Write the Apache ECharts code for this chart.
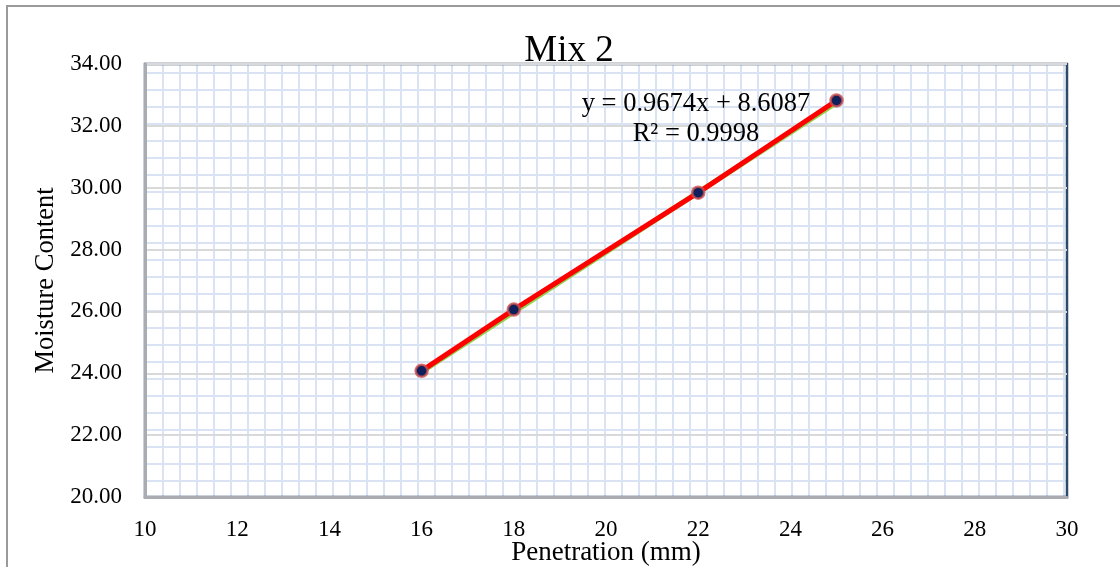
<!DOCTYPE html>
<html><head><meta charset="utf-8">
<script src="https://cdn.jsdelivr.net/npm/echarts@6/dist/echarts.min.js"></script>
<style>html,body{margin:0;padding:0;background:#fff}#c{width:1120px;height:567px}</style>
</head><body><div id="c"></div>
<script>
// ---- data ----
const penetration = [16, 18, 22, 25];
const moisture = [24.08, 26.06, 29.84, 32.82];
const trendSlope = 0.9674;
const trendIntercept = 8.6087;
const rSquared = 0.9998;
const chartTitle = 'Mix 2';
const xTitle = 'Penetration (mm)';
const yTitle = 'Moisture Content';

// ---- styling helpers ----
const FONT = '"Liberation Serif", "Times New Roman", serif';
const pc = document.createElement('canvas');
pc.width = 17; pc.height = 17;
const g = pc.getContext('2d');
g.fillStyle = '#ffffff'; g.fillRect(0, 0, 17, 17);
g.fillStyle = '#dae3f3';
g.fillRect(9, 0, 2, 17);
g.fillRect(0, 4, 17, 2);

const points = penetration.map((x, i) => [x, moisture[i]]);
const xMinData = Math.min(...penetration), xMaxData = Math.max(...penetration);
const trend = [xMinData, xMaxData].map(x => [x, trendSlope * x + trendIntercept]);

const chart = echarts.init(document.getElementById('c'), null, {renderer: 'canvas'});
chart.setOption({
  animation: false,
  backgroundColor: '#ffffff',
  grid: {
    left: 145, right: 53, top: 64, bottom: 70, show: true,
    outerBoundsMode: 'none', containLabel: false,
    backgroundColor: {image: pc, repeat: 'repeat'},
    borderColor: '#2e4a6b', borderWidth: 2.5
  },
  xAxis: {
    type: 'value', min: 10, max: 30, interval: 2,
    name: xTitle, nameLocation: 'middle', nameGap: 42, nameMoveOverlap: false,
    nameTextStyle: {fontFamily: FONT, fontSize: 27, color: '#000'},
    axisLine: {show: true, onZero: false, lineStyle: {color: '#a9adb2', width: 3}},
    axisTick: {show: false},
    axisLabel: {fontFamily: FONT, fontSize: 23, color: '#000', margin: 21},
    splitLine: {show: false}
  },
  yAxis: {
    type: 'value', min: 20, max: 34, interval: 2,
    name: yTitle, nameLocation: 'middle', nameGap: 85, nameMoveOverlap: false,
    nameTextStyle: {fontFamily: FONT, fontSize: 26.5, color: '#000'},
    axisLine: {show: true, onZero: false, lineStyle: {color: '#a9adb2', width: 3}},
    axisTick: {show: false},
    axisLabel: {fontFamily: FONT, fontSize: 23, color: '#000', margin: 23,
      formatter: v => v.toFixed(2)},
    splitLine: {show: true, lineStyle: {color: '#d9d9d9', width: 2}}
  },
  series: [
    {
      type: 'line', data: trend, showSymbol: false, symbol: 'none',
      lineStyle: {color: '#92d050', width: 3, shadowColor: '#92d050', shadowBlur: 0,
        shadowOffsetX: 1, shadowOffsetY: 2},
      z: 2, silent: true
    },
    {
      type: 'line', data: points, symbol: 'circle', symbolSize: 12,
      lineStyle: {color: '#ff0000', width: 5},
      itemStyle: {color: '#0e1f5b', borderColor: 'rgba(205,80,80,0.8)', borderWidth: 2.5},
      z: 3
    }
  ],
  graphic: [
    {type: 'rect', shape: {x: 7, y: 6, width: 1140, height: 600},
     style: {fill: 'none', stroke: '#9a9a9a', lineWidth: 2}, silent: true, z: 100},
    {type: 'text', x: 569, y: 33,
     style: {text: chartTitle, font: '37px ' + FONT, fill: '#000', align: 'center', verticalAlign: 'top'}, z: 100},
    {type: 'text', x: 696, y: 89,
     style: {text: 'y = ' + trendSlope + 'x + ' + trendIntercept + '\nR² = ' + rSquared,
       font: '26.5px ' + FONT, fill: '#000', align: 'center', verticalAlign: 'top', lineHeight: 30}, z: 100}
  ]
});
</script>
</body></html>
